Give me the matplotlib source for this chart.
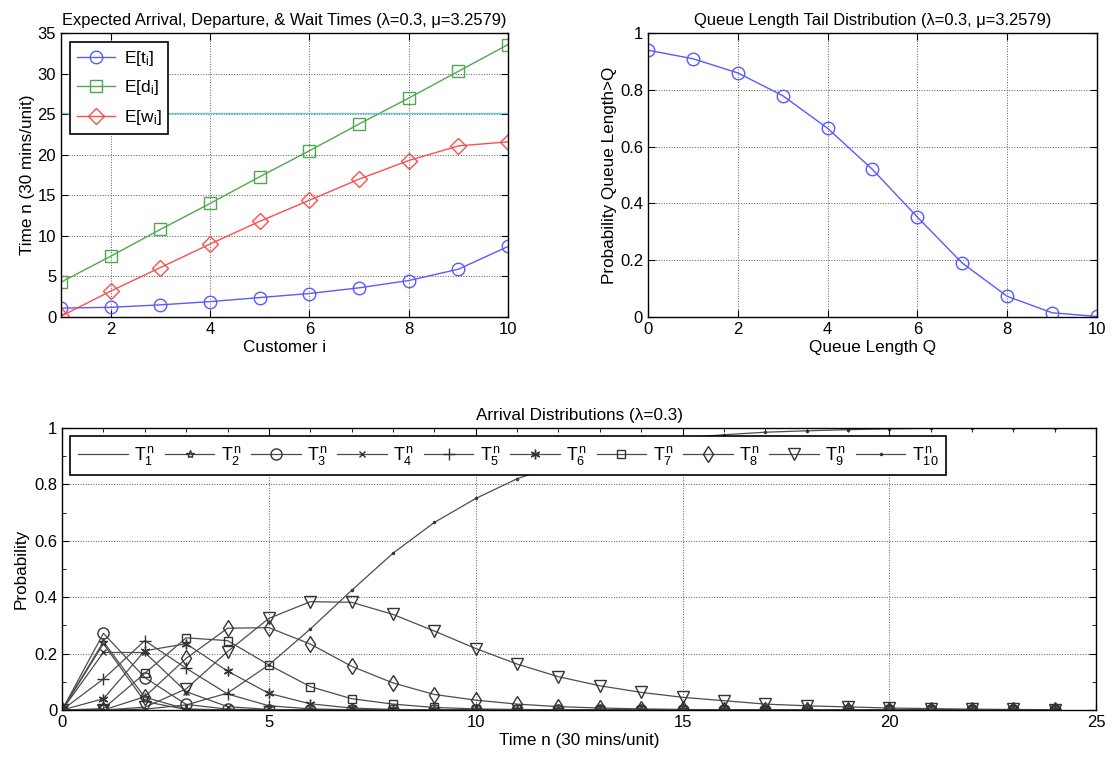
import matplotlib
matplotlib.use("Agg")
import matplotlib.pyplot as plt
from matplotlib.ticker import MultipleLocator
import numpy as np

plt.rcParams['font.family'] = ['Liberation Sans', 'DejaVu Sans']
plt.rcParams['mathtext.fontset'] = 'custom'
plt.rcParams['mathtext.rm'] = 'Liberation Sans'
plt.rcParams['mathtext.it'] = 'Liberation Sans'

# expected times per customer
customers = [1, 2, 3, 4, 5, 6, 7, 8, 9, 10]
e_arrival = [1.1, 1.2, 1.5, 1.9, 2.4, 2.9, 3.6, 4.5, 5.9, 8.7]
e_depart = [4.3, 7.5, 10.8, 14.0, 17.3, 20.5, 23.8, 27.0, 30.3, 33.6]
e_wait = [0.1, 3.2, 6.1, 9.0, 11.8, 14.4, 17.0, 19.3, 21.1, 21.6]
limit_level = 25.1

# queue length tail
queue_len = [0, 1, 2, 3, 4, 5, 6, 7, 8, 9, 10]
tail_prob = [0.94, 0.91, 0.86, 0.78, 0.665, 0.52, 0.352, 0.19, 0.073, 0.015, 0.002]

# arrival distributions, n = 0..24
time_n = list(range(25))
arrivals = [
    [0, .235, .03, .002] + [0] * 21,
    [0, .242, .045, .004] + [0] * 21,
    [0, .272, .115, .02, .003] + [0] * 20,
    [0, .204, .204, .065, .012, .002] + [0] * 19,
    [0, .11, .246, .148, .057, .015, .004, .001] + [0] * 17,
    [0, .04, .21, .235, .138, .059, .022, .007, .002, .001] + [0] * 15,
    [0, .005, .13, .256, .246, .16, .083, .04, .021, .009, .004, .002, .001] + [0] * 12,
    [0, 0, .047, .183, .29, .292, .234, .155, .096, .055, .035, .021, .012, .007,
     .004, .002, .001] + [0] * 8,
    [0, 0, .01, .075, .207, .325, .384, .382, .339, .28, .218, .163, .118, .086,
     .0625, .045, .033, .021, .015, .011, .007, .005, .003, .002, .001],
    [0, 0, .003, .018, .06, .16, .287, .424, .556, .665, .75, .82, .87, .915,
     .945, .965, .976, .985, .99, .994, .997, .999, 1.0, 1.0, 1.0],
]
markers = [None, '*', 'o', 'x', '+', (6, 2, 0), 's', 'd', 'v', '.']
msizes = [0, 6, 8, 5, 8, 7, 6, 8, 8, 3]


def matlab_axes(ax):
    ax.tick_params(direction='in', top=True, right=True, labelsize=12, length=5)
    ax.tick_params(which='minor', direction='in', top=True, right=True, length=3)
    ax.grid(True, linestyle=':', color='0.35', linewidth=0.7)
    for s in ax.spines.values():
        s.set_linewidth(1.0)


fig = plt.figure(figsize=(11.12, 7.61), dpi=100)

ax1 = fig.add_axes([0.0549, 0.5834, 0.402, 0.373])
ax1.plot(customers, e_arrival, '-o', color='#5a5aff', mfc='none', ms=9, lw=1, label=r'E[t$_\mathrm{i}$]')
ax1.plot(customers, e_depart, '-s', color='#4fa84f', mfc='none', ms=8, lw=1, label=r'E[d$_\mathrm{i}$]')
ax1.plot(customers, e_wait, '-D', color='#ff4d4d', mfc='none', ms=8, lw=1, label=r'E[w$_\mathrm{i}$]')
ax1.axhline(limit_level, color='#6ccccc', lw=1)
ax1.set_xlim(1, 10)
ax1.set_ylim(0, 35)
ax1.set_xticks([2, 4, 6, 8, 10])
ax1.set_title('Expected Arrival, Departure, & Wait Times (λ=0.3, μ=3.2579)', fontsize=11.9, pad=6)
ax1.set_xlabel('Customer i', fontsize=12.3, labelpad=2)
ax1.set_ylabel('Time n (30 mins/unit)', fontsize=12.3, labelpad=2)
matlab_axes(ax1)
leg = ax1.legend(loc='upper left', fontsize=12.5, fancybox=False, edgecolor='k',
                 framealpha=1, handlelength=2.2, handletextpad=0.5, labelspacing=0.6,
                 borderaxespad=0.5)
leg.get_frame().set_linewidth(1.2)

ax2 = fig.add_axes([0.5827, 0.5834, 0.4038, 0.373])
ax2.plot(queue_len, tail_prob, '-o', color='#5a5aff', mfc='none', ms=9, lw=1)
ax2.set_xlim(0, 10)
ax2.set_ylim(0, 1)
ax2.set_xticks([0, 2, 4, 6, 8, 10])
ax2.set_yticks([0, 0.2, 0.4, 0.6, 0.8, 1])
ax2.set_yticklabels(['0', '0.2', '0.4', '0.6', '0.8', '1'])
ax2.set_title('Queue Length Tail Distribution (λ=0.3, μ=3.2579)', fontsize=11.9, pad=6)
ax2.set_xlabel('Queue Length Q', fontsize=12.3, labelpad=2)
ax2.set_ylabel('Probability Queue Length>Q', fontsize=12.3, labelpad=2)
matlab_axes(ax2)

ax3 = fig.add_axes([0.0558, 0.067, 0.93, 0.3706])
for k, series in enumerate(arrivals):
    ax3.plot(time_n, series, color='0.3', lw=0.9, marker=markers[k], ms=msizes[k],
             mfc='none', mec='0.2', mew=1.0, label=r'$T^n_{%d}$' % (k + 1))
ax3.set_xlim(0, 25)
ax3.set_ylim(0, 1)
ax3.set_xticks([0, 5, 10, 15, 20, 25])
ax3.set_yticks([0, 0.2, 0.4, 0.6, 0.8, 1])
ax3.set_yticklabels(['0', '0.2', '0.4', '0.6', '0.8', '1'])
ax3.xaxis.set_minor_locator(MultipleLocator(1))
ax3.yaxis.set_minor_locator(MultipleLocator(0.1))
ax3.set_title('Arrival Distributions (λ=0.3)', fontsize=12.3, pad=6)
ax3.set_xlabel('Time n (30 mins/unit)', fontsize=12.3, labelpad=2)
ax3.set_ylabel('Probability', fontsize=12.3, labelpad=4)
matlab_axes(ax3)
leg3 = ax3.legend(loc='upper left', ncol=10, fontsize=13, fancybox=False, edgecolor='k',
                  framealpha=1, handlelength=2.75, columnspacing=0.55, handletextpad=0.35,
                  borderaxespad=0.45, borderpad=0.45)
leg3.get_frame().set_linewidth(1.2)

fig.savefig('out.png', dpi=100)
